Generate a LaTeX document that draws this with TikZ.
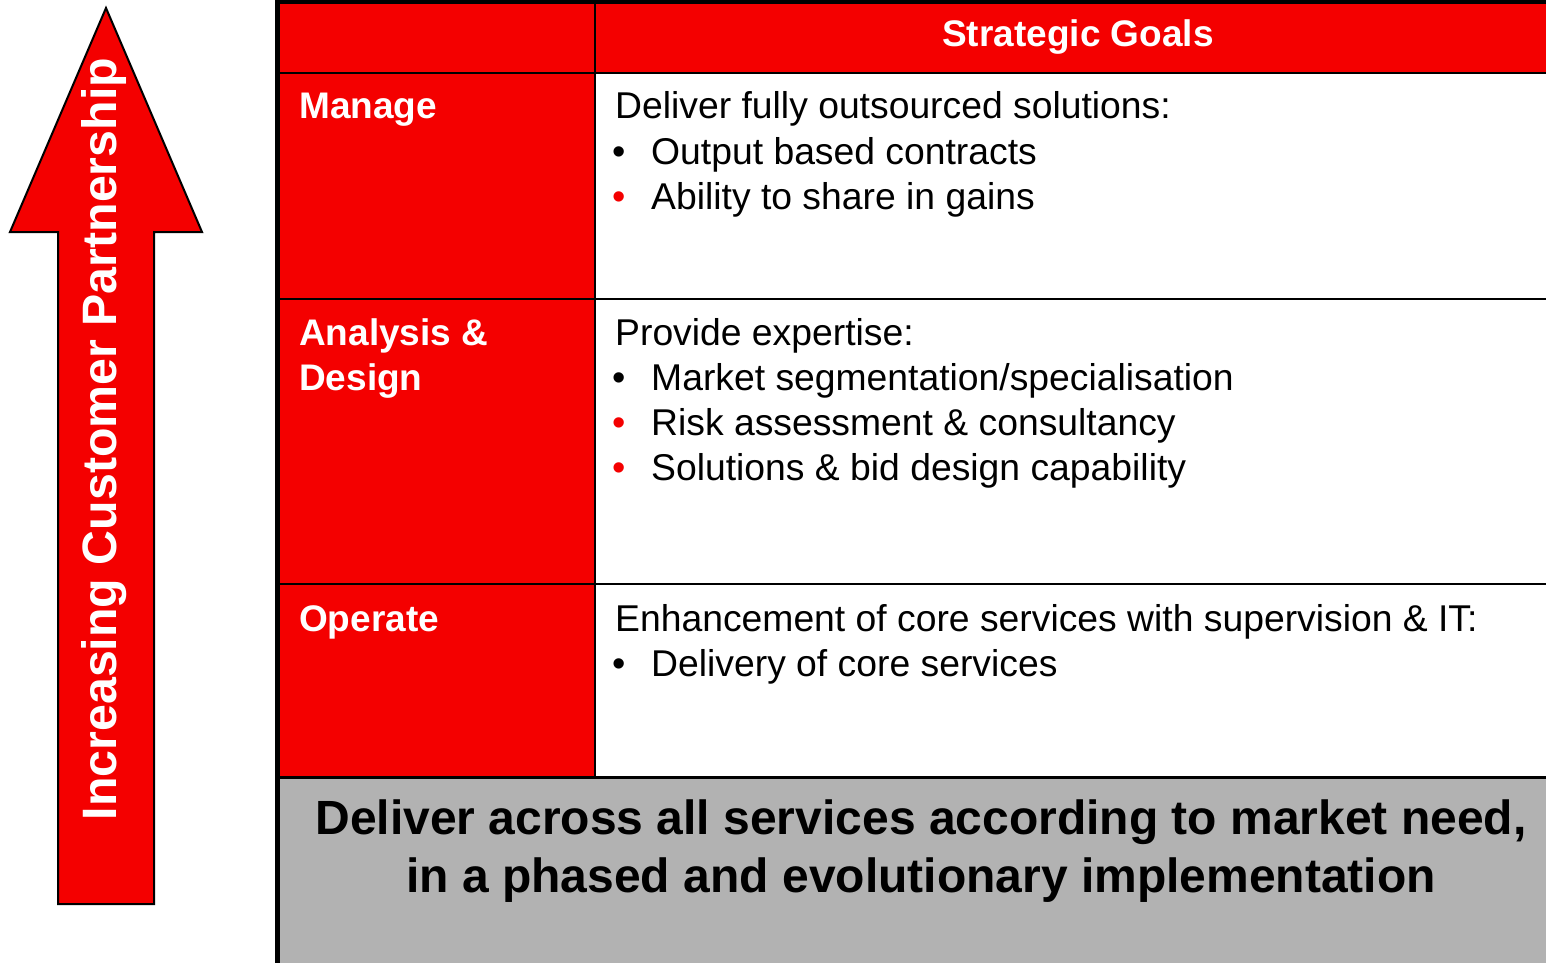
\documentclass[tikz,border=0pt]{standalone}
\usepackage{fontspec}
\setmainfont{Liberation Sans}
\definecolor{cred}{HTML}{F40000}
\definecolor{cgray}{HTML}{B2B2B2}
\begin{document}
\begin{tikzpicture}[x=1pt,y=-1pt,
  body/.style={anchor=base west,inner sep=0pt,font=\fontsize{37.3}{37.3}\selectfont},
  bul/.style={anchor=base west,inner sep=0pt,font=\fontsize{38}{38}\selectfont},
  rowhead/.style={anchor=base west,inner sep=0pt,text=white,font=\fontsize{37}{37}\selectfont\bfseries},
  bottomtxt/.style={anchor=base,inner sep=0pt,font=\fontsize{48}{48}\selectfont\bfseries},
  gridline/.style={line width=2.5pt,draw=black}]
\useasboundingbox (0,0) rectangle (1546,963);
% backgrounds
\fill[cred] (280,4) rectangle (1546,777);
\fill[white] (595,73) rectangle (1546,777);
\fill[cgray] (280,777) rectangle (1546,963);
% grid
\draw[gridline] (280,73) -- (1546,73);
\draw[gridline] (280,299) -- (1546,299);
\draw[gridline] (280,584) -- (1546,584);
\draw[gridline] (280,777.5) -- (1546,777.5);
\draw[gridline] (595,4) -- (595,777);
\fill[black] (275,0) rectangle (280,963);
\fill[black] (275,0) rectangle (1546,4);
% arrow
\draw[fill=cred,draw=black,line width=2pt,line join=miter]
  (106,8) -- (202,232) -- (154,232) -- (154,904) -- (58,904) -- (58,232) -- (10,232) -- cycle;
\node[rotate=90,anchor=base,inner sep=0pt,text=white,font=\fontsize{48.3}{48.3}\selectfont\bfseries] (arrowtxt) at (116,439) {Increasing Customer Partnership};
% header
\node[anchor=base,inner sep=0pt,text=white,font=\fontsize{37}{37}\selectfont\bfseries] (hdr) at (1078,47) {Strategic Goals};
% row heads
\node[rowhead] (h1) at (299,119) {Manage};
\node[rowhead] (h2a) at (299,345) {Analysis \&};
\node[rowhead] (h2b) at (299,390) {Design};
\node[rowhead] (h3) at (299,631) {Operate};
% row 1
\node[body] (r1t) at (615,119) {Deliver fully outsourced solutions:};
\node[bul] (r1b1) at (612,164) {•};
\node[body] (r1l1) at (651,164) {Output based contracts};
\node[bul,text=cred] (r1b2) at (612,209) {•};
\node[body] (r1l2) at (651,209) {Ability to share in gains};
% row 2
\node[body] (r2t) at (615,345) {Provide expertise:};
\node[bul] (r2b1) at (612,390) {•};
\node[body] (r2l1) at (651,390) {Market segmentation/specialisation};
\node[bul,text=cred] (r2b2) at (612,435) {•};
\node[body] (r2l2) at (651,435) {Risk assessment \& consultancy};
\node[bul,text=cred] (r2b3) at (612,480) {•};
\node[body] (r2l3) at (651,480) {Solutions \& bid design capability};
% row 3
\node[body] (r3t) at (615,631) {Enhancement of core services with supervision \& IT:};
\node[bul] (r3b1) at (612,676) {•};
\node[body] (r3l1) at (651,676) {Delivery of core services};
% bottom
\node[bottomtxt] (bt1) at (921,834) {Deliver across all services according to market need,};
\node[bottomtxt] (bt2) at (921,892) {in a phased and evolutionary implementation};
\end{tikzpicture}
\end{document}
